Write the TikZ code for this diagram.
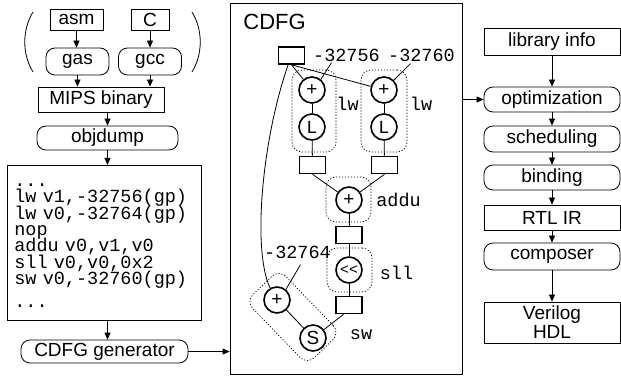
\documentclass[tikz,border=0pt]{standalone}
\usepackage{fontspec}
\setmainfont{Liberation Sans}
\setmonofont{Liberation Mono}
\usepackage{tikz}
\usetikzlibrary{arrows.meta}

\newcommand{\sfnt}{\fontsize{19}{21}\selectfont}
\newcommand{\mfnt}{\fontsize{18.5}{16.3}\selectfont\ttfamily\lineskiplimit=-20pt\relax}

\begin{document}
\begin{tikzpicture}[x=1pt, y=-1pt, line width=0.8pt,
  >={Stealth[inset=0pt, length=7pt, width=6pt]},
  box/.style={draw, font=\sfnt, inner sep=0pt},
  tool/.style={box, rounded corners=9pt},
  op/.style={circle, draw, line width=1.6pt, minimum size=26pt, inner sep=0pt, font=\sfnt},
  reg/.style={draw, line width=1.6pt, minimum width=26pt, minimum height=17pt, inner sep=0pt},
  grp/.style={draw, line width=0.7pt, dash pattern=on 1.2pt off 1.8pt, rounded corners=10pt, inner sep=0pt},
  tag/.style={font=\mfnt, inner sep=0pt}]
  \useasboundingbox (0,0) rectangle (621,379);
  % ------- (i) front end -------
  \node[box, minimum width=53pt, minimum height=21pt] (asm) at (76.5,19.5) {asm};
  \node[box, minimum width=38pt, minimum height=21pt] (c) at (150,19.5) {C};
  \node[tool, minimum width=63pt, minimum height=27pt] (gas) at (77.5,61.5) {gas};
  \node[tool, minimum width=63pt, minimum height=27pt] (gcc) at (150,61.5) {gcc};
  \draw (33,12) .. controls (22,30) and (22,54) .. (33,72);
  \draw (192,12) .. controls (203,30) and (203,54) .. (192,72);
  \node[box, minimum width=126pt, minimum height=25pt] (mips) at (101,99.5) {MIPS binary};
  \node[tool, minimum width=141pt, minimum height=24pt] (objdump) at (107.5,138) {objdump};
  \node[box, anchor=north west, text width=180pt, minimum height=155pt, inner xsep=7pt,
        align=left, font=\mfnt] (code) at (7,165)
    {\rule{0pt}{8.5pt}...\\ lw v1,-32756(gp)\\ lw v0,-32764(gp)\\ nop\\ addu v0,v1,v0\\
     sll v0,v0,0x2\\ sw v0,-32760(gp)\\[7pt] ...};
  \node[tool, minimum width=167pt, minimum height=23pt] (gen) at (104.5,351.5) {CDFG generator};
  \draw[->] (asm.south) -- (asm.south |- gas.north);
  \draw[->] (c.south) -- (gcc.north);
  \draw[->] (gas.south) -- (gas.south |- mips.north);
  \draw[->] (gcc.south) -- (gcc.south |- mips.north);
  \draw[->] (mips.south -| objdump.north) -- (objdump.north);
  \draw[->] (objdump.south) -- (objdump.south |- code.north);
  \draw[->] (objdump.south |- code.south) -- (objdump.south |- gen.north);
  % ------- (ii) CDFG -------
  \node[box, minimum width=232pt, minimum height=371pt] (cdfg) at (346,188.5) {};
  \node[anchor=west, inner sep=0pt, font=\fontsize{22}{24}\selectfont] (title) at (243,22) {CDFG};
  \draw[->] (gen) -- (gen -| cdfg.west);
  \node[reg] (src) at (291.5,55.5) {};
  \node[op] (addA) at (312,90) {+};
  \node[op, font=\mfnt] (ldA) at (312,127) {L};
  \node[op] (addB) at (384,90) {+};
  \node[op, font=\mfnt] (ldB) at (384,127) {L};
  \node[reg] (rA) at (312.5,165) {};
  \node[reg] (rB) at (384.5,165) {};
  \node[op] (addC) at (349,200) {+};
  \node[reg] (rC) at (349,235) {};
  \node[op, font=\fontsize{15}{15}\selectfont\ttfamily] (shl) at (349,270) {<<};
  \node[reg] (rD) at (349,305) {};
  \node[op] (addD) at (277,300) {+};
  \node[op] (st) at (313,338) {S};
  % groups
  \node[grp, minimum width=44pt, minimum height=82pt] (gA) at (314,111) {};
  \node[grp, minimum width=46pt, minimum height=82pt] (gB) at (384,111) {};
  \node[grp, minimum width=45pt, minimum height=45pt] (gC) at (348.5,199.5) {};
  \node[grp, minimum width=45pt, minimum height=44pt] (gD) at (349.5,270) {};
  \node[grp, minimum width=88pt, minimum height=46pt, rotate=-46] (gE) at (293,317) {};
  % labels
  \node[tag] (offA) at (346.5,55) {-32756};
  \node[tag] (offB) at (421.5,55) {-32760};
  \node[tag] (lwA) at (347.5,104) {lw};
  \node[tag] (lwB) at (421,104) {lw};
  \node[tag] (lbC) at (398.5,200) {addu};
  \node[tag] (lbD) at (396.5,273) {sll};
  \node[tag] (offE) at (297.5,252) {-32764};
  \node[tag] (lbE) at (361,335) {sw};
  \draw ([xshift=-15pt, yshift=-1pt]offA.south) -- (addA.50);
  \draw ([xshift=-11pt, yshift=-2pt]offB.south) -- (addB.45);
  \draw ([xshift=3pt, yshift=-6pt]offE.south) -- (addD.50);
  % edges
  \draw (src.south) -- (addA);
  \draw (src.south) -- (addB);
  \draw (src.250) .. controls (262,140) and (252,250) .. (addD.120);
  \draw (addA) -- (ldA);
  \draw (addB) -- (ldB);
  \draw (ldA) -- (rA);
  \draw (ldB) -- (rB);
  \draw (rA.south) -- (addC);
  \draw (rB.south) -- (addC);
  \draw (addC) -- (rC);
  \draw (rC) -- (shl);
  \draw (shl) -- (rD);
  \draw (rD.240) -- (st);
  \draw (addD) -- (st);
  % ------- (iii) back end -------
  \node[box, minimum width=136pt, minimum height=27pt] (lib) at (552,41.5) {library info};
  \node[tool, minimum width=136pt, minimum height=25pt] (opt) at (552,99.5) {optimization};
  \node[tool, minimum width=136pt, minimum height=26pt] (sched) at (552,139) {scheduling};
  \node[tool, minimum width=136pt, minimum height=25pt] (bind) at (552,177.5) {binding};
  \node[box, minimum width=136pt, minimum height=25pt] (rtl) at (552,217.5) {RTL IR};
  \node[tool, minimum width=136pt, minimum height=27pt] (comp) at (552,256.5) {composer};
  \node[box, minimum width=136pt, minimum height=41pt, align=center] (hdl) at (552,322.5)
    {Verilog\\[-2pt]HDL};
  \foreach \a/\b in {lib/opt, opt/sched, sched/bind, bind/rtl, rtl/comp, comp/hdl}
    \draw[->] (\a) -- (\b);
  \draw[->] (cdfg.east |- opt) -- (opt);
\end{tikzpicture}
\end{document}
